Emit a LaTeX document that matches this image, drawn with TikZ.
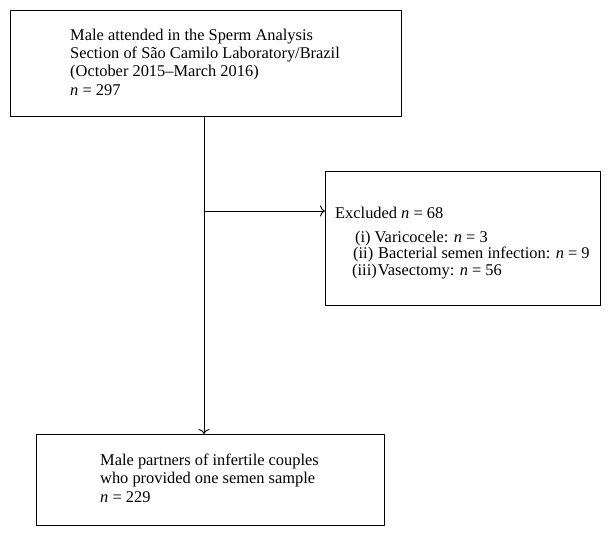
\documentclass[tikz,border=0pt]{standalone}
\usepackage{fontspec}
\setmainfont{Liberation Serif}
\usetikzlibrary{arrows.meta}
\begin{document}
\begin{tikzpicture}[x=1pt,y=-1pt,
  box/.style={draw=black,line width=0.9pt,fill=white},
  txt/.style={anchor=base west,inner sep=0pt,font=\fontsize{16.4}{19}\selectfont},
  conn/.style={line width=0.9pt,-{To[length=5pt,width=11pt]}}]
\useasboundingbox (0,0) rectangle (611,536);
\fill[white] (0,0) rectangle (611,536);
% boxes
\node[box,minimum width=391pt,minimum height=106pt,anchor=north west,inner sep=0pt] (top) at (10,10) {};
\node[box,minimum width=275pt,minimum height=134pt,anchor=north west,inner sep=0pt] (excl) at (325,171) {};
\node[box,minimum width=348pt,minimum height=91pt,anchor=north west,inner sep=0pt] (bot) at (36,434) {};
% texts
\node[txt] (t1) at (70,40.5) {Male attended in the Sperm Analysis};
\node[txt] (t2) at (70,58.5) {Section of São Camilo Laboratory/Brazil};
\node[txt] (t3) at (70,76) {(October 2015–March 2016)};
\node[txt] (t4) at (70,95.5) {\textit{n} = 297};
\node[txt] (e0) at (335,218) {Excluded \textit{n} = 68};
\node[txt] (e1) at (355,242) {(i)\hspace{4pt}Varicocele: \textit{n} = 3};
\node[txt] (e2) at (353,258.5) {(ii)\hspace{5pt}Bacterial semen infection: \textit{n} = 9};
\node[txt] (e3) at (352,275) {(iii)\hspace{1pt}Vasectomy: \textit{n} = 56};
\node[txt] (b1) at (100,465) {Male partners of infertile couples};
\node[txt] (b2) at (100,483.5) {who provided one semen sample};
\node[txt] (b3) at (100,502) {\textit{n} = 229};
% connectors
\coordinate (split) at (204,211);
\draw[line width=0.9pt] (top.south -| split) -- (split);
\draw[conn] (split) -- (split |- bot.north);
\draw[conn] (split) -- (excl.west |- split);
\end{tikzpicture}
\end{document}
